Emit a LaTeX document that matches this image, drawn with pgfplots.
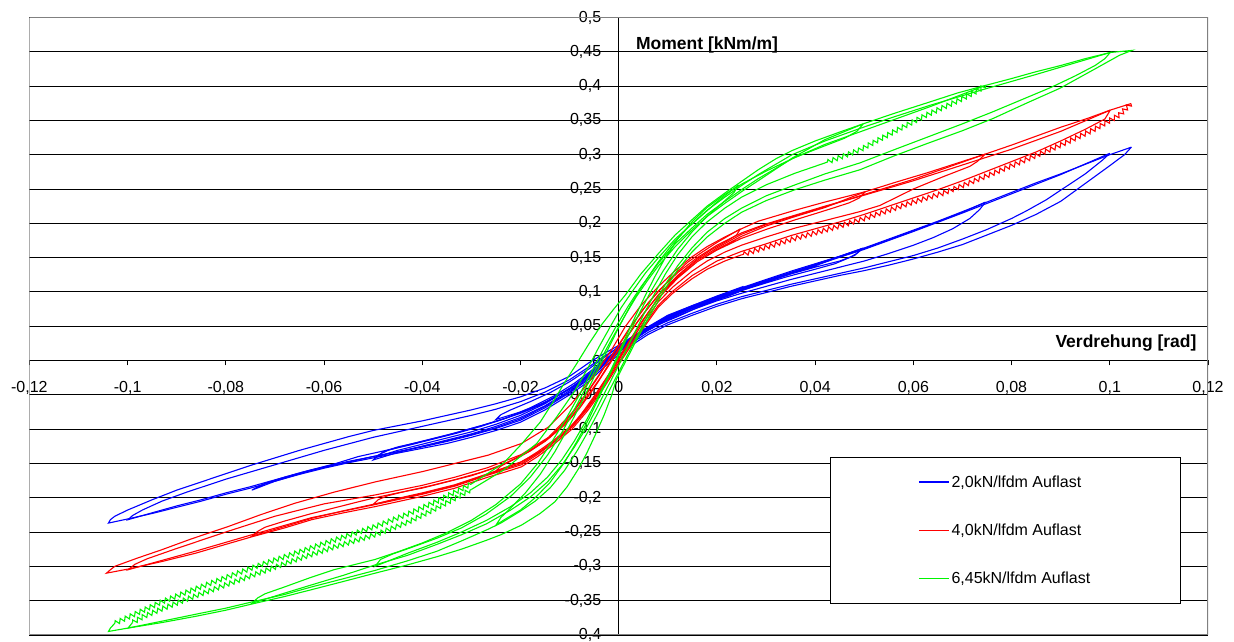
\documentclass[border=0pt]{standalone}
\usepackage{fontspec}
\setmainfont{Liberation Sans}
\usepackage{pgfplots}
\pgfplotsset{compat=1.18}
\usetikzlibrary{decorations.pathmorphing}
\definecolor{xlblue}{RGB}{0,0,255}
\definecolor{xlred}{RGB}{255,0,0}
\definecolor{xlgreen}{RGB}{0,245,0}
\definecolor{framegray}{RGB}{128,128,128}
\tikzset{jag/.style={decorate, decoration={zigzag, segment length=5.5bp, amplitude=2.2bp}}}
\begin{document}
\begin{tikzpicture}
\begin{axis}[
  at={(0,0)}, anchor=south west,
  scale only axis, width=1178.6bp, height=617.4bp,
  xmin=-0.12, xmax=0.12, ymin=-0.4, ymax=0.5,
  axis lines=middle,
  axis line style={-, black, line width=0.9bp},
  hide obscured x ticks=false, hide obscured y ticks=false,
  xtick={-0.12,-0.1,-0.08,-0.06,-0.04,-0.02,0,0.02,0.04,0.06,0.08,0.1,0.12},
  ytick={-0.4,-0.35,-0.3,-0.25,-0.2,-0.15,-0.1,-0.05,0,0.05,0.1,0.15,0.2,0.25,0.3,0.35,0.4,0.45,0.5},
  scaled ticks=false,
  tick align=outside, major tick length=5bp,
  tick style={black, line width=0.9bp},
  ymajorgrids, grid style={black, line width=0.8bp},
  /pgf/number format/use comma, /pgf/number format/assume math mode=true,
  /pgf/number format/fixed, /pgf/number format/precision=2,
  tick label style={font=\fontsize{16bp}{18bp}\selectfont},
  xticklabel style={yshift=-12.5bp},
  yticklabel style={xshift=-9bp},
  every axis plot/.append style={line width=1.1bp},
  legend style={at={(0.6793,0.2881)}, anchor=north west,
    draw=black, fill=white, line width=0.8bp,
    inner xsep=88bp, inner ysep=16bp, row sep=31.3bp,
    font=\fontsize{16bp}{19bp}\selectfont},
  legend cell align=left,
  legend image code/.code={\draw[#1, line width=1.1bp] (0bp,0bp) -- (30bp,0bp);},
]
\draw[framegray, line width=1.3bp] (rel axis cs:0,0) rectangle (rel axis cs:1,1);

% ---------------- BLUE 2,0 kN ----------------
\addplot[xlblue] coordinates {(0.1044,0.311)(0.103,0.300)(0.100,0.284)(0.095,0.258)(0.090,0.232)(0.085,0.213)(0.080,0.197)(0.075,0.183)(0.070,0.169)(0.065,0.158)(0.060,0.148)(0.055,0.139)(0.050,0.131)(0.045,0.124)(0.040,0.116)(0.035,0.108)(0.030,0.099)(0.025,0.090)(0.020,0.079)(0.015,0.066)(0.010,0.052)(0.006,0.038)(0.003,0.024)(0.000,0.009)(-0.003,-0.010)(-0.006,-0.030)(-0.010,-0.050)(-0.015,-0.072)(-0.020,-0.090)(-0.025,-0.102)(-0.030,-0.112)(-0.035,-0.121)(-0.040,-0.128)(-0.045,-0.135)(-0.050,-0.142)(-0.055,-0.149)(-0.060,-0.157)(-0.065,-0.166)(-0.070,-0.176)(-0.075,-0.186)(-0.080,-0.195)(-0.085,-0.205)(-0.090,-0.214)(-0.095,-0.223)(-0.100,-0.231)(-0.1039,-0.237)(-0.1035,-0.232)(-0.1026,-0.227)(-0.100,-0.218)(-0.095,-0.203)(-0.090,-0.189)(-0.085,-0.177)(-0.080,-0.165)(-0.075,-0.153)(-0.070,-0.142)(-0.065,-0.131)(-0.060,-0.121)(-0.055,-0.111)(-0.050,-0.102)(-0.045,-0.095)(-0.040,-0.088)(-0.035,-0.080)(-0.030,-0.072)(-0.025,-0.063)(-0.020,-0.053)(-0.015,-0.040)(-0.010,-0.023)(-0.006,-0.003)(-0.003,0.010)(0.000,0.022)(0.005,0.045)(0.010,0.066)(0.015,0.080)(0.020,0.093)(0.025,0.106)(0.030,0.118)(0.035,0.130)(0.040,0.141)(0.045,0.152)(0.050,0.164)(0.055,0.177)(0.060,0.190)(0.065,0.203)(0.070,0.217)(0.075,0.231)(0.080,0.245)(0.085,0.259)(0.090,0.272)(0.095,0.286)(0.100,0.300)(0.1044,0.311)};
\addlegendentry{2,0kN/lfdm Auflast}
\addplot[xlblue, forget plot] coordinates {(0.1000,0.302)(0.0985,0.292)(0.095,0.272)(0.091,0.253)(0.087,0.234)(0.083,0.218)(0.080,0.207)(0.075,0.191)(0.070,0.177)(0.065,0.164)(0.060,0.153)(0.055,0.144)(0.050,0.135)(0.045,0.127)(0.040,0.119)(0.035,0.111)(0.030,0.102)(0.025,0.093)(0.020,0.082)(0.015,0.069)(0.010,0.055)(0.006,0.041)(0.003,0.027)(0.000,0.012)(-0.003,-0.007)(-0.006,-0.027)(-0.010,-0.047)(-0.015,-0.069)(-0.020,-0.087)(-0.025,-0.099)(-0.030,-0.109)(-0.035,-0.118)(-0.040,-0.126)(-0.045,-0.133)(-0.050,-0.140)(-0.055,-0.147)(-0.060,-0.155)(-0.065,-0.164)(-0.070,-0.174)(-0.075,-0.184)(-0.080,-0.193)(-0.085,-0.203)(-0.090,-0.212)(-0.095,-0.222)(-0.0999,-0.232)(-0.0990,-0.226)(-0.097,-0.218)(-0.093,-0.205)(-0.088,-0.192)(-0.080,-0.173)(-0.070,-0.152)(-0.060,-0.131)(-0.050,-0.112)(-0.040,-0.096)(-0.030,-0.080)(-0.025,-0.071)(-0.020,-0.060)(-0.015,-0.046)(-0.010,-0.028)(-0.006,-0.009)(-0.003,0.006)(0.000,0.019)(0.005,0.042)(0.010,0.063)(0.015,0.078)(0.020,0.091)(0.025,0.104)(0.030,0.116)(0.040,0.139)(0.050,0.162)(0.060,0.188)(0.070,0.215)(0.080,0.243)(0.090,0.271)(0.1000,0.302)};
\addplot[xlblue, forget plot] coordinates {(0.0747,0.231)(0.0735,0.220)(0.0715,0.207)(0.068,0.192)(0.064,0.179)(0.060,0.168)(0.055,0.156)(0.050,0.145)(0.045,0.136)(0.040,0.127)(0.035,0.118)(0.030,0.108)(0.025,0.098)(0.020,0.087)(0.015,0.074)(0.010,0.059)(0.006,0.044)(0.003,0.030)(0.000,0.014)(-0.003,-0.005)(-0.006,-0.025)(-0.010,-0.046)(-0.015,-0.067)(-0.020,-0.085)(-0.025,-0.098)(-0.030,-0.108)(-0.035,-0.117)(-0.040,-0.125)(-0.045,-0.133)(-0.050,-0.140)(-0.055,-0.148)(-0.060,-0.156)(-0.065,-0.165)(-0.070,-0.176)(-0.0747,-0.189)(-0.0735,-0.184)(-0.072,-0.179)(-0.068,-0.170)(-0.063,-0.160)(-0.058,-0.151)(-0.053,-0.140)(-0.048,-0.132)(-0.043,-0.124)(-0.038,-0.115)(-0.033,-0.106)(-0.028,-0.096)(-0.023,-0.084)(-0.018,-0.069)(-0.013,-0.051)(-0.009,-0.033)(-0.006,-0.017)(-0.003,0.000)(0.000,0.016)(0.005,0.043)(0.010,0.064)(0.015,0.079)(0.020,0.092)(0.025,0.105)(0.030,0.117)(0.040,0.140)(0.050,0.163)(0.060,0.189)(0.070,0.216)(0.0747,0.231)};
\addplot[xlblue, forget plot] coordinates {(0.0498,0.164)(0.0485,0.156)(0.047,0.150)(0.044,0.141)(0.040,0.133)(0.0342,0.122)(0.030,0.113)(0.025,0.102)(0.0206,0.090)(0.016,0.077)(0.012,0.064)(0.007,0.049)(0.003,0.032)(0.000,0.016)(-0.003,-0.003)(-0.006,-0.023)(-0.010,-0.044)(-0.015,-0.066)(-0.020,-0.083)(-0.025,-0.096)(-0.030,-0.107)(-0.035,-0.116)(-0.040,-0.125)(-0.045,-0.134)(-0.050,-0.145)(-0.049,-0.138)(-0.047,-0.131)(-0.043,-0.123)(-0.038,-0.114)(-0.033,-0.105)(-0.028,-0.095)(-0.023,-0.084)(-0.018,-0.071)(-0.013,-0.054)(-0.009,-0.036)(-0.006,-0.019)(-0.003,-0.002)(0.000,0.014)(0.005,0.041)(0.010,0.062)(0.015,0.077)(0.020,0.090)(0.025,0.103)(0.030,0.115)(0.040,0.139)(0.0498,0.164)};
\addplot[xlblue, forget plot] coordinates {(0.0495,0.163)(0.048,0.153)(0.045,0.145)(0.040,0.136)(0.035,0.126)(0.030,0.116)(0.025,0.105)(0.020,0.092)(0.015,0.078)(0.010,0.063)(0.006,0.048)(0.003,0.034)(0.000,0.018)(-0.003,-0.001)(-0.006,-0.020)(-0.010,-0.041)(-0.015,-0.063)(-0.020,-0.080)(-0.025,-0.093)(-0.030,-0.104)(-0.035,-0.113)(-0.040,-0.122)(-0.045,-0.131)(-0.049,-0.140)(-0.048,-0.133)(-0.045,-0.126)(-0.040,-0.118)(-0.035,-0.109)(-0.030,-0.099)(-0.025,-0.089)(-0.020,-0.077)(-0.015,-0.061)(-0.010,-0.041)(-0.006,-0.022)(-0.003,-0.005)(0.000,0.012)(0.005,0.040)(0.010,0.061)(0.015,0.076)(0.020,0.089)(0.025,0.102)(0.030,0.114)(0.040,0.138)(0.0495,0.163)};
\addplot[xlblue, forget plot] coordinates {(0.0254,0.108)(0.0245,0.100)(0.022,0.093)(0.018,0.084)(0.014,0.073)(0.010,0.060)(0.006,0.045)(0.003,0.030)(0.000,0.014)(-0.003,-0.005)(-0.006,-0.023)(-0.010,-0.042)(-0.015,-0.061)(-0.020,-0.075)(-0.025,-0.086)(-0.024,-0.079)(-0.022,-0.072)(-0.018,-0.060)(-0.014,-0.047)(-0.010,-0.031)(-0.006,-0.012)(-0.003,0.004)(0.000,0.020)(0.005,0.044)(0.010,0.065)(0.015,0.080)(0.020,0.094)(0.0254,0.108)};

% ---------------- RED 4,0 kN ----------------
\addplot[xlred] coordinates {(0.025,0.154)(0.0216,0.145)(0.018,0.133)(0.0149,0.119)(0.011,0.098)(0.0081,0.078)(0.005,0.047)(0.002,0.016)(-0.001,-0.017)(-0.0035,-0.045)(-0.0062,-0.072)(-0.0095,-0.100)(-0.013,-0.121)(-0.0165,-0.140)(-0.0198,-0.155)(-0.0233,-0.163)(-0.0266,-0.170)(-0.030,-0.178)(-0.0333,-0.186)(-0.040,-0.198)(-0.0496,-0.213)(-0.056,-0.222)(-0.0625,-0.232)(-0.068,-0.244)(-0.0747,-0.257)(-0.080,-0.268)(-0.0862,-0.281)(-0.093,-0.293)(-0.0999,-0.304)(-0.1043,-0.310)(-0.1035,-0.305)(-0.1026,-0.300)(-0.098,-0.288)(-0.0931,-0.276)(-0.087,-0.260)(-0.0795,-0.242)(-0.073,-0.225)(-0.0659,-0.208)(-0.058,-0.192)(-0.0496,-0.177)(-0.040,-0.162)(-0.0333,-0.150)(-0.0266,-0.138)(-0.0198,-0.121)(-0.0143,-0.097)(-0.0096,-0.063)(-0.0048,-0.020)(-0.0015,0.015)(0.0013,0.049)(0.0045,0.080)(0.0081,0.108)(0.0115,0.131)(0.0149,0.151)(0.018,0.166)(0.0216,0.180)(0.025,0.192)(0.0284,0.203)(0.0359,0.219)(0.042,0.231)(0.0502,0.246)(0.056,0.259)(0.063,0.274)(0.0747,0.301)(0.080,0.314)(0.085,0.327)(0.090,0.340)(0.0955,0.353)(0.1001,0.365)(0.1043,0.3745)};
\addlegendentry{4,0kN/lfdm Auflast}
\addplot[xlred, forget plot, jag] coordinates {(0.1043,0.3745)(0.102,0.358)(0.0966,0.336)(0.090,0.314)(0.0844,0.297)(0.0763,0.273)(0.070,0.255)(0.0661,0.244)(0.060,0.231)(0.0559,0.221)(0.050,0.207)(0.045,0.196)(0.040,0.186)(0.0359,0.178)(0.030,0.165)(0.025,0.154)};
\addplot[xlred, forget plot] coordinates {(0.1001,0.365)(0.099,0.352)(0.095,0.337)(0.090,0.320)(0.085,0.304)(0.080,0.290)(0.075,0.276)(0.070,0.262)(0.065,0.249)(0.060,0.237)(0.055,0.225)(0.050,0.213)(0.045,0.202)(0.040,0.192)(0.035,0.182)(0.030,0.170)(0.025,0.159)(0.020,0.145)(0.015,0.124)(0.011,0.101)(0.008,0.080)(0.005,0.050)(0.002,0.019)(-0.001,-0.014)(-0.0035,-0.042)(-0.0062,-0.069)(-0.0095,-0.097)(-0.013,-0.118)(-0.0165,-0.137)(-0.0198,-0.152)(-0.0266,-0.167)(-0.0333,-0.183)(-0.040,-0.195)(-0.0496,-0.210)(-0.0625,-0.229)(-0.0747,-0.254)(-0.0862,-0.278)(-0.0999,-0.305)(-0.0985,-0.297)(-0.096,-0.289)(-0.090,-0.274)(-0.080,-0.250)(-0.070,-0.227)(-0.060,-0.209)(-0.0496,-0.196)(-0.040,-0.182)(-0.0333,-0.170)(-0.0266,-0.156)(-0.0198,-0.137)(-0.0143,-0.112)(-0.0096,-0.077)(-0.006,-0.042)(-0.003,-0.010)(0.000,0.022)(0.003,0.055)(0.006,0.084)(0.0081,0.101)(0.012,0.128)(0.016,0.150)(0.020,0.168)(0.025,0.186)(0.030,0.199)(0.036,0.212)(0.042,0.225)(0.050,0.241)(0.060,0.262)(0.070,0.285)(0.080,0.308)(0.090,0.334)(0.1001,0.365)};
\addplot[xlred, forget plot] coordinates {(0.0747,0.301)(0.073,0.290)(0.0715,0.283)(0.0661,0.268)(0.060,0.250)(0.0532,0.226)(0.0491,0.217)(0.042,0.204)(0.0359,0.193)(0.030,0.180)(0.025,0.168)(0.0216,0.158)(0.018,0.145)(0.0149,0.130)(0.011,0.107)(0.008,0.085)(0.005,0.055)(0.002,0.023)(-0.001,-0.011)(-0.0035,-0.041)(-0.0062,-0.068)(-0.0095,-0.096)(-0.013,-0.117)(-0.0165,-0.135)(-0.0198,-0.150)(-0.0266,-0.166)(-0.0333,-0.182)(-0.040,-0.194)(-0.0496,-0.209)(-0.056,-0.219)(-0.0625,-0.230)(-0.068,-0.242)(-0.0747,-0.256)(-0.0735,-0.249)(-0.072,-0.243)(-0.068,-0.234)(-0.063,-0.224)(-0.058,-0.215)(-0.053,-0.206)(-0.0496,-0.200)(-0.045,-0.193)(-0.040,-0.186)(-0.035,-0.177)(-0.030,-0.168)(-0.025,-0.156)(-0.020,-0.140)(-0.015,-0.118)(-0.011,-0.094)(-0.008,-0.070)(-0.005,-0.040)(-0.002,-0.007)(0.001,0.027)(0.004,0.058)(0.0081,0.096)(0.012,0.124)(0.016,0.146)(0.020,0.164)(0.025,0.184)(0.030,0.198)(0.036,0.211)(0.042,0.224)(0.050,0.242)(0.060,0.264)(0.0747,0.301)};
\addplot[xlred, forget plot] coordinates {(0.0502,0.246)(0.049,0.237)(0.047,0.230)(0.044,0.223)(0.040,0.214)(0.0359,0.205)(0.030,0.191)(0.025,0.178)(0.020,0.161)(0.016,0.144)(0.012,0.120)(0.008,0.090)(0.005,0.060)(0.002,0.027)(-0.001,-0.008)(-0.0035,-0.038)(-0.0062,-0.066)(-0.0095,-0.094)(-0.013,-0.115)(-0.0165,-0.133)(-0.0198,-0.148)(-0.0266,-0.165)(-0.0333,-0.181)(-0.040,-0.193)(-0.045,-0.201)(-0.050,-0.210)(-0.049,-0.203)(-0.047,-0.197)(-0.043,-0.190)(-0.038,-0.182)(-0.033,-0.173)(-0.028,-0.163)(-0.023,-0.150)(-0.018,-0.132)(-0.014,-0.112)(-0.010,-0.085)(-0.007,-0.058)(-0.004,-0.028)(-0.001,0.006)(0.002,0.038)(0.005,0.068)(0.0081,0.095)(0.012,0.122)(0.016,0.144)(0.020,0.162)(0.025,0.181)(0.030,0.196)(0.036,0.210)(0.042,0.223)(0.0502,0.246)};
\addplot[xlred, forget plot] coordinates {(0.0248,0.192)(0.024,0.183)(0.022,0.174)(0.019,0.162)(0.016,0.148)(0.013,0.130)(0.010,0.108)(0.007,0.080)(0.004,0.048)(0.001,0.014)(-0.002,-0.020)(-0.005,-0.052)(-0.008,-0.082)(-0.011,-0.106)(-0.014,-0.124)(-0.017,-0.137)(-0.020,-0.148)(-0.0235,-0.157)(-0.025,-0.161)(-0.024,-0.154)(-0.022,-0.146)(-0.019,-0.135)(-0.016,-0.122)(-0.013,-0.105)(-0.010,-0.082)(-0.007,-0.054)(-0.004,-0.022)(-0.001,0.012)(0.002,0.045)(0.005,0.075)(0.008,0.100)(0.011,0.123)(0.014,0.143)(0.017,0.158)(0.020,0.172)(0.0248,0.192)};

% ---------------- GREEN 6,45 kN ----------------
\addplot[xlgreen] coordinates {(-0.030,-0.180)(-0.0235,-0.150)(-0.0198,-0.122)(-0.016,-0.090)(-0.0135,-0.062)(-0.011,-0.032)(-0.0085,-0.004)(-0.006,0.025)(-0.0035,0.052)(-0.001,0.075)(0.0013,0.095)(0.0045,0.126)(0.0081,0.156)(0.0115,0.183)(0.0149,0.205)(0.018,0.225)(0.0216,0.244)(0.025,0.261)(0.0284,0.278)(0.032,0.294)(0.0353,0.306)(0.040,0.320)(0.045,0.333)(0.0498,0.345)(0.056,0.360)(0.0634,0.377)(0.069,0.390)(0.0747,0.401)(0.080,0.411)(0.085,0.421)(0.090,0.430)(0.095,0.440)(0.1001,0.449)(0.1045,0.452)(0.102,0.445)(0.0966,0.4235)(0.0899,0.397)(0.083,0.375)(0.0763,0.353)(0.070,0.335)(0.0627,0.316)(0.056,0.298)(0.0491,0.278)(0.042,0.263)(0.0359,0.249)(0.030,0.233)(0.025,0.216)(0.0216,0.200)(0.018,0.180)(0.0149,0.158)(0.012,0.132)(0.0095,0.105)(0.0075,0.080)(0.0055,0.055)(0.0035,0.028)(0.0015,0.000)(-0.0005,-0.028)(-0.0014,-0.050)(-0.003,-0.080)(-0.0048,-0.109)(-0.0065,-0.135)(-0.0082,-0.158)(-0.0105,-0.184)(-0.013,-0.206)(-0.016,-0.223)(-0.0198,-0.240)(-0.024,-0.254)(-0.0269,-0.262)(-0.032,-0.275)(-0.037,-0.286)(-0.043,-0.298)(-0.0496,-0.310)(-0.056,-0.322)(-0.0625,-0.334)(-0.068,-0.344)(-0.0747,-0.355)(-0.080,-0.364)(-0.0862,-0.373)(-0.093,-0.382)(-0.0999,-0.390)(-0.1039,-0.395)(-0.1035,-0.390)(-0.1026,-0.383)};
\addlegendentry{6,45kN/lfdm Auflast}
\addplot[xlgreen, forget plot, jag] coordinates {(-0.1026,-0.383)(-0.098,-0.368)(-0.0931,-0.352)(-0.087,-0.335)(-0.0795,-0.315)(-0.073,-0.298)(-0.0659,-0.281)(-0.058,-0.262)(-0.0496,-0.242)(-0.043,-0.224)(-0.037,-0.205)(-0.030,-0.180)};
\addplot[xlgreen, forget plot] coordinates {(-0.030,-0.188)(-0.0235,-0.160)(-0.0167,-0.121)(-0.0126,-0.082)(-0.009,-0.045)(-0.0065,-0.014)(-0.004,0.020)(-0.0015,0.052)(0.0005,0.077)(0.003,0.103)(0.0055,0.128)(0.0081,0.150)(0.0115,0.177)(0.0149,0.199)(0.018,0.219)(0.0216,0.238)(0.025,0.255)(0.0284,0.271)(0.0353,0.300)(0.042,0.320)(0.0498,0.340)(0.056,0.355)(0.0634,0.372)(0.0747,0.396)(0.085,0.417)(0.1001,0.449)(0.099,0.440)(0.097,0.430)(0.093,0.415)(0.088,0.398)(0.082,0.380)(0.076,0.362)(0.070,0.345)(0.063,0.326)(0.056,0.307)(0.0491,0.288)(0.042,0.272)(0.0359,0.256)(0.030,0.240)(0.025,0.222)(0.0216,0.207)(0.018,0.187)(0.0149,0.164)(0.012,0.138)(0.0095,0.111)(0.0075,0.086)(0.0055,0.060)(0.0035,0.032)(0.0015,0.004)(-0.0005,-0.024)(-0.0025,-0.052)(-0.0045,-0.080)(-0.0065,-0.107)(-0.0085,-0.132)(-0.011,-0.160)(-0.014,-0.186)(-0.017,-0.205)(-0.0201,-0.220)(-0.024,-0.237)(-0.0269,-0.247)(-0.032,-0.263)(-0.037,-0.278)(-0.043,-0.292)(-0.0496,-0.306)(-0.056,-0.318)(-0.0625,-0.330)(-0.068,-0.341)(-0.0747,-0.352)(-0.080,-0.361)(-0.0862,-0.370)(-0.093,-0.380)(-0.0999,-0.390)(-0.099,-0.382)};
\addplot[xlgreen, forget plot, jag] coordinates {(-0.099,-0.382)(-0.097,-0.374)(-0.093,-0.362)(-0.088,-0.348)(-0.080,-0.327)(-0.073,-0.309)(-0.066,-0.291)(-0.058,-0.272)(-0.0496,-0.254)(-0.043,-0.236)(-0.037,-0.215)(-0.030,-0.188)};
\addplot[xlgreen, forget plot, jag] coordinates {(0.0747,0.401)(0.073,0.393)(0.0695,0.380)(0.0627,0.358)(0.0559,0.333)(0.0491,0.307)(0.042,0.288)};
\addplot[xlgreen, forget plot] coordinates {(0.042,0.288)(0.0359,0.273)(0.030,0.256)(0.025,0.238)(0.0216,0.222)(0.018,0.202)(0.0149,0.180)(0.012,0.154)(0.0095,0.126)(0.0075,0.100)(0.0055,0.073)(0.0035,0.044)(0.0015,0.015)(-0.0005,-0.014)(-0.0025,-0.042)(-0.0045,-0.070)(-0.0065,-0.097)(-0.009,-0.126)(-0.0115,-0.152)(-0.0145,-0.177)(-0.018,-0.199)(-0.022,-0.218)(-0.0269,-0.238)(-0.032,-0.254)(-0.037,-0.268)(-0.043,-0.284)(-0.0496,-0.298)(-0.056,-0.313)(-0.0625,-0.327)(-0.068,-0.339)(-0.0747,-0.354)(-0.0735,-0.346)(-0.072,-0.340)(-0.068,-0.330)(-0.063,-0.317)(-0.058,-0.305)(-0.0496,-0.290)(-0.045,-0.279)(-0.040,-0.266)(-0.035,-0.251)(-0.030,-0.233)(-0.025,-0.210)(-0.020,-0.180)(-0.0165,-0.150)(-0.0133,-0.115)(-0.0105,-0.082)(-0.008,-0.050)(-0.0055,-0.016)(-0.003,0.018)(-0.0005,0.050)(0.002,0.080)(0.0045,0.107)(0.0081,0.142)(0.0115,0.170)(0.0149,0.193)(0.018,0.213)(0.0216,0.232)(0.025,0.249)(0.0284,0.265)(0.0353,0.294)(0.042,0.315)(0.0498,0.335)(0.056,0.351)(0.0634,0.370)(0.0747,0.401)};
\addplot[xlgreen, forget plot] coordinates {(0.0498,0.345)(0.0485,0.334)(0.046,0.324)(0.042,0.313)(0.0359,0.296)(0.030,0.276)(0.025,0.257)(0.0216,0.242)(0.018,0.223)(0.0149,0.202)(0.012,0.177)(0.0095,0.150)(0.0075,0.124)(0.0055,0.096)(0.0035,0.066)(0.0015,0.035)(-0.0005,0.003)(-0.0025,-0.028)(-0.0045,-0.058)(-0.0065,-0.086)(-0.009,-0.117)(-0.0115,-0.144)(-0.0145,-0.170)(-0.018,-0.193)(-0.022,-0.213)(-0.0269,-0.233)(-0.032,-0.250)(-0.037,-0.265)(-0.043,-0.281)(-0.0496,-0.300)(-0.0485,-0.290)(-0.046,-0.282)(-0.042,-0.272)(-0.037,-0.259)(-0.032,-0.244)(-0.027,-0.224)(-0.022,-0.198)(-0.018,-0.170)(-0.0145,-0.138)(-0.0115,-0.104)(-0.009,-0.071)(-0.0065,-0.037)(-0.004,-0.003)(-0.0015,0.030)(0.001,0.062)(0.0035,0.092)(0.006,0.118)(0.0081,0.138)(0.0115,0.166)(0.0149,0.190)(0.018,0.210)(0.0216,0.229)(0.025,0.246)(0.0284,0.262)(0.0353,0.295)(0.042,0.322)(0.0498,0.345)};
\addplot[xlgreen, forget plot] coordinates {(0.0244,0.256)(0.0235,0.245)(0.021,0.229)(0.018,0.210)(0.015,0.188)(0.012,0.162)(0.009,0.130)(0.0065,0.100)(0.004,0.066)(0.0015,0.030)(-0.001,-0.008)(-0.0035,-0.046)(-0.006,-0.084)(-0.0085,-0.118)(-0.011,-0.148)(-0.014,-0.178)(-0.017,-0.200)(-0.020,-0.218)(-0.0235,-0.233)(-0.025,-0.240)(-0.024,-0.229)(-0.022,-0.215)(-0.019,-0.193)(-0.016,-0.166)(-0.013,-0.133)(-0.010,-0.095)(-0.0075,-0.060)(-0.005,-0.024)(-0.0025,0.012)(0.000,0.048)(0.0025,0.082)(0.005,0.111)(0.008,0.143)(0.011,0.170)(0.014,0.193)(0.017,0.212)(0.020,0.231)(0.0244,0.256)};

\node[anchor=west, inner sep=0pt, font=\bfseries\fontsize{17.5bp}{20bp}\selectfont] at (axis cs:0.0035,0.46) {Moment [kNm/m]};
\node[anchor=east, inner sep=0pt, font=\bfseries\fontsize{17.5bp}{20bp}\selectfont] at (axis cs:0.1177,0.025) {Verdrehung [rad]};
\end{axis}
\pgfresetboundingbox
\path[use as bounding box] (-29.4bp,-7.1bp) rectangle (1204.6bp,634.9bp);
\end{tikzpicture}
\end{document}
